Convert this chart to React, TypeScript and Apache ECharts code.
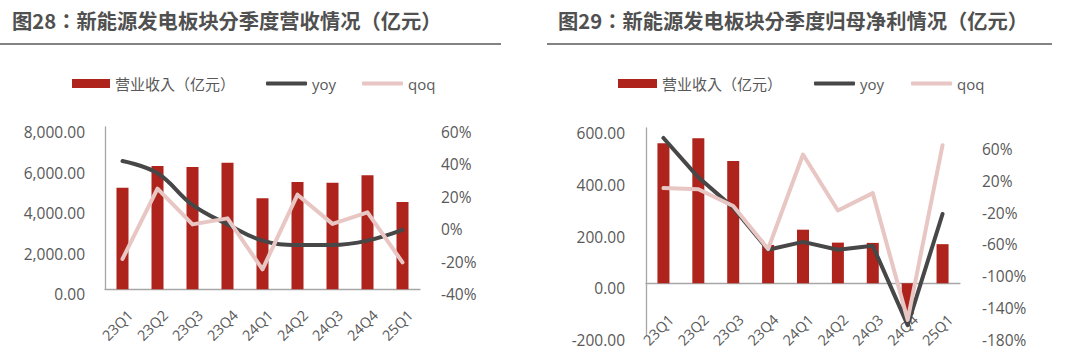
import React, { useEffect, useRef } from "react";
import * as echarts from "echarts";

const categories = ["23Q1", "23Q2", "23Q3", "23Q4", "24Q1", "24Q2", "24Q3", "24Q4", "25Q1"];

const revenue = [5000, 6080, 6030, 6240, 4490, 5290, 5250, 5620, 4300];
const revenueYoy = [39, 31.5, 12, 0, -10, -12.7, -12.7, -10, -3.4];
const revenueQoq = [-21.3, 22, 0, 3.7, -27.7, 18.3, 0.3, 7.4, -23.4];

const profit = [541, 560, 472, 148, 207, 157, 156, -120, 151];
const profitYoy = [67.5, 18, -20, -73, -63, -73, -68, -167.6, -28];
const profitQoq = [4.5, 3, -18, -72, 46.7, -23.6, -1.8, -161, 58.4];

const profitPctTicks = [-180, -140, -100, -60, -20, 20, 60];

const titleLeft = "图28：新能源发电板块分季度营收情况（亿元）";
const titleRight = "图29：新能源发电板块分季度归母净利情况（亿元）";
const barName = "营业收入（亿元）";
const yoyName = "yoy";
const qoqName = "qoq";

const RED = "#ae231b";
const DARK = "#474747";
const PINK = "#e7c6c3";
const GRAY_TEXT = "#595959";
const AXIS = "#a6a6a6";
const FONT = "'Open Sans', 'Noto Sans CJK TC', sans-serif";
const TITLE_FONT = "'Noto Sans CJK TC', 'Noto Sans CJK SC', sans-serif";

const fmtNum = (v: number) =>
  v.toLocaleString("en-US", { minimumFractionDigits: 2, maximumFractionDigits: 2 });

export default function App() {
  const ref = useRef<HTMLDivElement>(null);
  useEffect(() => {
    if (!ref.current) return;
    const chart = echarts.init(ref.current, undefined, { renderer: "svg" });

    const legendText = { fontSize: 15, color: GRAY_TEXT, fontFamily: FONT };
    const mkLegend = (left: number, name: string, w: number, h: number, icon: string, top: number) => ({
      left,
      top,
      padding: 0,
      selectedMode: false,
      itemWidth: w,
      itemHeight: h,
      itemGap: 0,
      data: [{ name, icon }],
      textStyle: legendText,
    });

    const yLabel = { color: GRAY_TEXT, fontSize: 15.5, fontFamily: FONT, verticalAlign: "top", lineHeight: 10 };
    const xLabel = (margin: number) => ({
      color: GRAY_TEXT,
      fontSize: 14.5,
      fontFamily: FONT,
      rotate: 45,
      align: "center",
      verticalAlign: "bottom",
      margin,
      interval: 0,
    });

    const lineSeries = (name: string, data: number[], x: number, y: number, color: string, smooth: boolean | number) => ({
      type: "line",
      name,
      data,
      xAxisIndex: x,
      yAxisIndex: y,
      smooth,
      symbol: "none",
      color,
      itemStyle: { color },
      lineStyle: { color, width: 4, cap: "round", join: "round" },
    });

    chart.setOption({
      animation: false,
      backgroundColor: "#ffffff",
      graphic: [
        {
          type: "text",
          left: 12,
          top: 10,
          style: { text: titleLeft, fontSize: 20.3, fontWeight: "bold", fill: "#505050", fontFamily: TITLE_FONT },
        },
        {
          type: "line",
          shape: { x1: 0, y1: 44, x2: 501, y2: 44 },
          style: { stroke: "#5a5a5a", lineWidth: 1.5 },
        },
        {
          type: "text",
          left: 558,
          top: 10,
          style: { text: titleRight, fontSize: 20.3, fontWeight: "bold", fill: "#505050", fontFamily: TITLE_FONT },
        },
        {
          type: "line",
          shape: { x1: 547, y1: 44, x2: 1052, y2: 44 },
          style: { stroke: "#5a5a5a", lineWidth: 1.5 },
        },
      ],
      legend: [
        mkLegend(72, barName, 38, 9, "rect", 76),
        mkLegend(266, yoyName, 41, 4, "roundRect", 76),
        mkLegend(362, qoqName, 41, 4, "roundRect", 76),
        mkLegend(618, barName, 39, 9, "rect", 76),
        mkLegend(814, yoyName, 41, 4, "roundRect", 76),
        mkLegend(911, qoqName, 41, 4, "roundRect", 76),
      ],
      grid: [
        { left: 105, top: 127, width: 315, height: 162.3, outerBoundsMode: "none", containLabel: false },
        { left: 646, top: 128, width: 314, height: 207, outerBoundsMode: "none", containLabel: false },
      ],
      xAxis: [
        {
          type: "category",
          gridIndex: 0,
          data: categories,
          axisLine: { lineStyle: { color: AXIS, width: 1.3 } },
          axisTick: { show: false },
          axisLabel: xLabel(41),
        },
        {
          type: "category",
          gridIndex: 1,
          data: categories,
          axisLine: { onZero: true, onZeroAxisIndex: 2, lineStyle: { color: AXIS, width: 1.3 } },
          axisTick: { show: false },
          axisLabel: xLabel(0),
        },
      ],
      yAxis: [
        {
          type: "value",
          gridIndex: 0,
          min: 0,
          max: 8000,
          interval: 2000,
          axisLine: { show: true, lineStyle: { color: AXIS, width: 1.3 } },
          axisTick: { show: false },
          splitLine: { show: false },
          axisLabel: { ...yLabel, margin: 20, formatter: (v: number) => fmtNum(v) },
        },
        {
          type: "value",
          gridIndex: 0,
          position: "right",
          min: -40,
          max: 60,
          interval: 20,
          axisLine: { show: false },
          axisTick: { show: false },
          splitLine: { show: false },
          axisLabel: { ...yLabel, margin: 21, formatter: (v: number) => `${v}%` },
        },
        {
          type: "value",
          gridIndex: 1,
          min: -200,
          max: 600,
          interval: 200,
          axisLine: { show: true, onZero: false, lineStyle: { color: AXIS, width: 1.3 } },
          axisTick: { show: false },
          splitLine: { show: false },
          axisLabel: { ...yLabel, margin: 21, formatter: (v: number) => fmtNum(v) },
        },
        {
          type: "value",
          gridIndex: 1,
          position: "right",
          min: -180,
          max: 80,
          axisLine: { show: false, onZero: false },
          axisTick: { show: false },
          splitLine: { show: false },
          axisLabel: { ...yLabel, margin: 22, customValues: profitPctTicks, formatter: (v: number) => `${v}%` },
        },
      ],
      series: [
        { type: "bar", name: barName, data: revenue, xAxisIndex: 0, yAxisIndex: 0, barWidth: 12, color: RED, itemStyle: { color: RED } },
        lineSeries(yoyName, revenueYoy, 0, 1, DARK, 0.4),
        lineSeries(qoqName, revenueQoq, 0, 1, PINK, false),
        { type: "bar", name: barName, data: profit, xAxisIndex: 1, yAxisIndex: 2, barWidth: 12, color: RED, itemStyle: { color: RED } },
        lineSeries(yoyName, profitYoy, 1, 3, DARK, false),
        lineSeries(qoqName, profitQoq, 1, 3, PINK, false),
      ],
    });
    return () => chart.dispose();
  }, []);
  return (
    <div
      ref={ref}
      style={{ position: "fixed", left: 0, top: 0, width: 1076, height: 364, background: "#fff" }}
    />
  );
}
